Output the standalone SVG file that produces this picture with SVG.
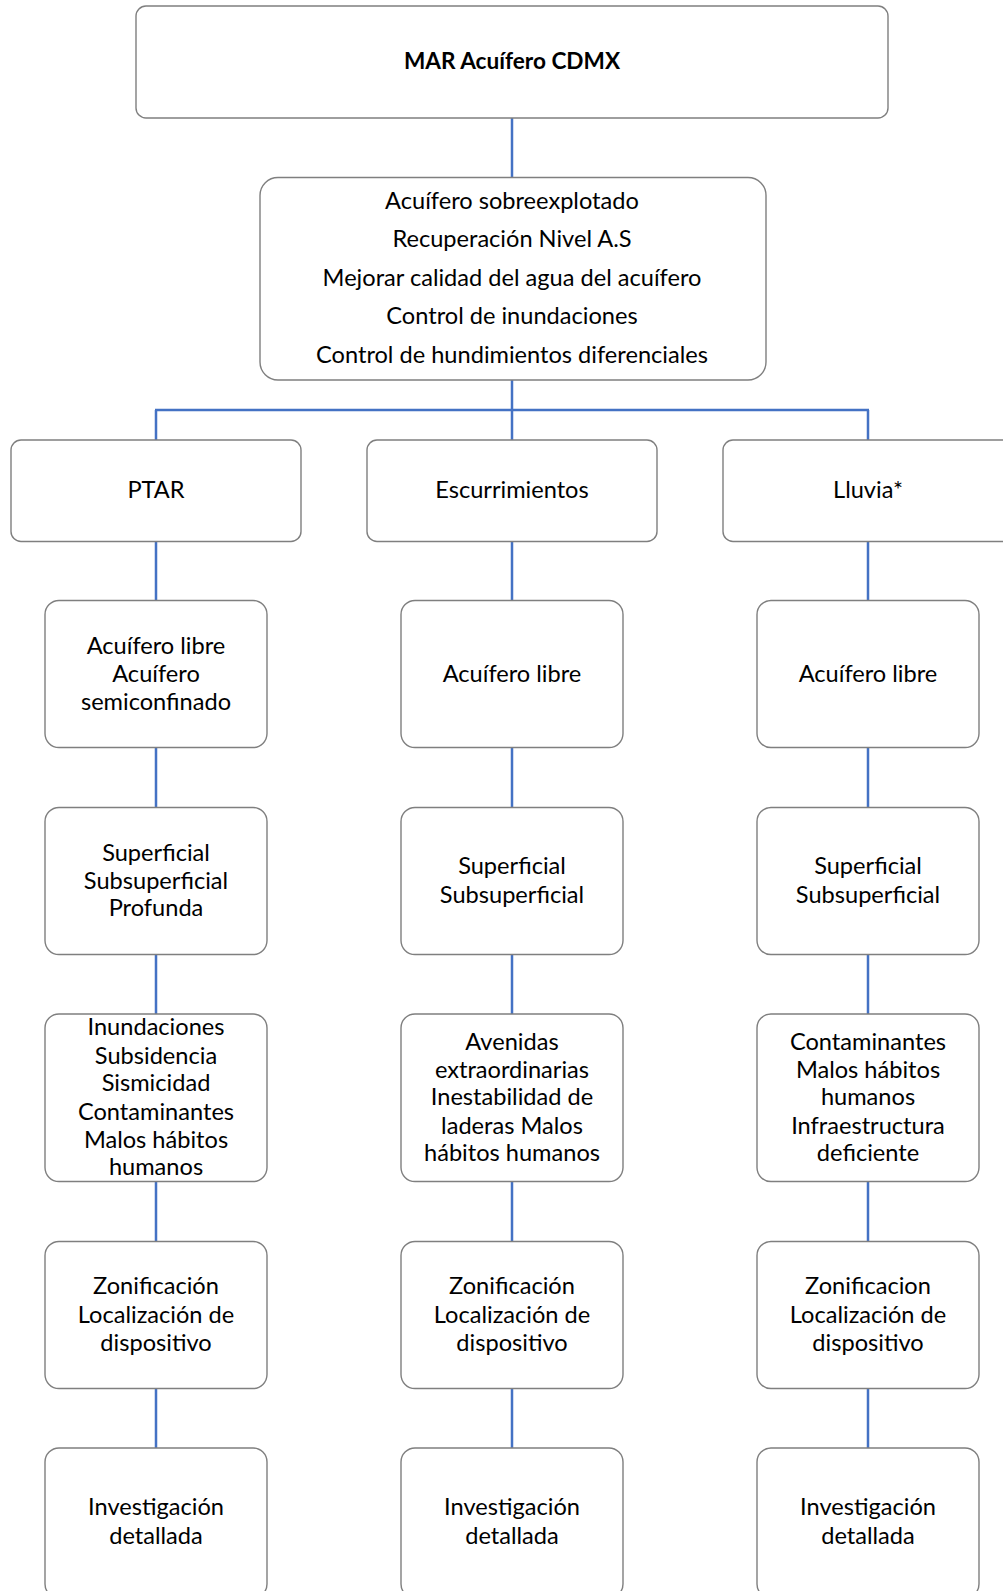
<svg xmlns="http://www.w3.org/2000/svg" width="1003" height="1591" viewBox="0 0 1003 1591">
<style>
.box{fill:#fff;stroke:#7f7f7f;stroke-width:1.4}
.t{font-family:Lato,"Liberation Sans",sans-serif;font-size:23.6px;fill:#000;text-anchor:middle}
.b{font-weight:bold;font-size:22.6px}
.c{stroke:#4472C4;stroke-width:2.5;fill:none}
</style>
<rect width="1003" height="1591" fill="#fff"/>
<g id="connectors">
<line class="c" x1="512" y1="118" x2="512" y2="178"/>
<line class="c" x1="512" y1="380" x2="512" y2="410"/>
<line class="c" x1="155" y1="410" x2="869" y2="410"/>
<line class="c" x1="156" y1="410" x2="156" y2="1448"/>
<line class="c" x1="512" y1="410" x2="512" y2="1448"/>
<line class="c" x1="868" y1="410" x2="868" y2="1448"/>
</g>
<g id="n_top"><rect class="box" x="136" y="6" width="752" height="112" rx="10"/><text class="t b" x="512" y="69">MAR Acuífero CDMX</text></g>
<g id="n_goals"><rect class="box" x="260" y="177.5" width="506" height="202.5" rx="18"/>
<text class="t" x="512" y="209">Acuífero sobreexplotado</text>
<text class="t" x="512" y="247">Recuperación Nivel A.S</text>
<text class="t" x="512" y="286">Mejorar calidad del agua del acuífero</text>
<text class="t" x="512" y="324">Control de inundaciones</text>
<text class="t" x="512" y="363">Control de hundimientos diferenciales</text></g>
<g id="n_ptar"><rect class="box" x="11" y="440" width="290" height="101.5" rx="10"/><text class="t" x="156" y="498">PTAR</text></g>
<g id="n_esc"><rect class="box" x="367" y="440" width="290" height="101.5" rx="10"/><text class="t" x="512" y="498">Escurrimientos</text></g>
<g id="n_llu"><rect class="box" x="723" y="440" width="290" height="101.5" rx="10"/><text class="t" x="868" y="498">Lluvia*</text></g>
<g id="p4"><rect class="box" x="45" y="600.5" width="222" height="147" rx="14"/><text class="t" x="156" y="654">Acuífero libre</text><text class="t" x="156" y="682">Acuífero</text><text class="t" x="156" y="710">semiconfinado</text></g>
<g id="e4"><rect class="box" x="401" y="600.5" width="222" height="147" rx="14"/><text class="t" x="512" y="682">Acuífero libre</text></g>
<g id="l4"><rect class="box" x="757" y="600.5" width="222" height="147" rx="14"/><text class="t" x="868" y="682">Acuífero libre</text></g>
<g id="p5"><rect class="box" x="45" y="807.5" width="222" height="147" rx="14"/><text class="t" x="156" y="861">Superficial</text><text class="t" x="156" y="889">Subsuperficial</text><text class="t" x="156" y="916">Profunda</text></g>
<g id="e5"><rect class="box" x="401" y="807.5" width="222" height="147" rx="14"/><text class="t" x="512" y="874">Superficial</text><text class="t" x="512" y="903">Subsuperficial</text></g>
<g id="l5"><rect class="box" x="757" y="807.5" width="222" height="147" rx="14"/><text class="t" x="868" y="874">Superficial</text><text class="t" x="868" y="903">Subsuperficial</text></g>
<g id="p6"><rect class="box" x="45" y="1014" width="222" height="167.5" rx="14"/>
<text class="t" x="156" y="1035">Inundaciones</text><text class="t" x="156" y="1064">Subsidencia</text><text class="t" x="156" y="1091">Sismicidad</text><text class="t" x="156" y="1120">Contaminantes</text><text class="t" x="156" y="1148">Malos hábitos</text><text class="t" x="156" y="1175">humanos</text></g>
<g id="e6"><rect class="box" x="401" y="1014" width="222" height="167.5" rx="14"/>
<text class="t" x="512" y="1050">Avenidas</text><text class="t" x="512" y="1078">extraordinarias</text><text class="t" x="512" y="1105">Inestabilidad de</text><text class="t" x="512" y="1134">laderas Malos</text><text class="t" x="512" y="1161">hábitos humanos</text></g>
<g id="l6"><rect class="box" x="757" y="1014" width="222" height="167.5" rx="14"/>
<text class="t" x="868" y="1050">Contaminantes</text><text class="t" x="868" y="1078">Malos hábitos</text><text class="t" x="868" y="1105">humanos</text><text class="t" x="868" y="1134">Infraestructura</text><text class="t" x="868" y="1161">deficiente</text></g>
<g id="p7"><rect class="box" x="45" y="1241.5" width="222" height="147" rx="14"/><text class="t" x="156" y="1294">Zonificación</text><text class="t" x="156" y="1323">Localización de</text><text class="t" x="156" y="1351">dispositivo</text></g>
<g id="e7"><rect class="box" x="401" y="1241.5" width="222" height="147" rx="14"/><text class="t" x="512" y="1294">Zonificación</text><text class="t" x="512" y="1323">Localización de</text><text class="t" x="512" y="1351">dispositivo</text></g>
<g id="l7"><rect class="box" x="757" y="1241.5" width="222" height="147" rx="14"/><text class="t" x="868" y="1294">Zonificacion</text><text class="t" x="868" y="1323">Localización de</text><text class="t" x="868" y="1351">dispositivo</text></g>
<g id="p8"><rect class="box" x="45" y="1448" width="222" height="150" rx="14"/><text class="t" x="156" y="1515">Investigación</text><text class="t" x="156" y="1544">detallada</text></g>
<g id="e8"><rect class="box" x="401" y="1448" width="222" height="150" rx="14"/><text class="t" x="512" y="1515">Investigación</text><text class="t" x="512" y="1544">detallada</text></g>
<g id="l8"><rect class="box" x="757" y="1448" width="222" height="150" rx="14"/><text class="t" x="868" y="1515">Investigación</text><text class="t" x="868" y="1544">detallada</text></g>
</svg>
